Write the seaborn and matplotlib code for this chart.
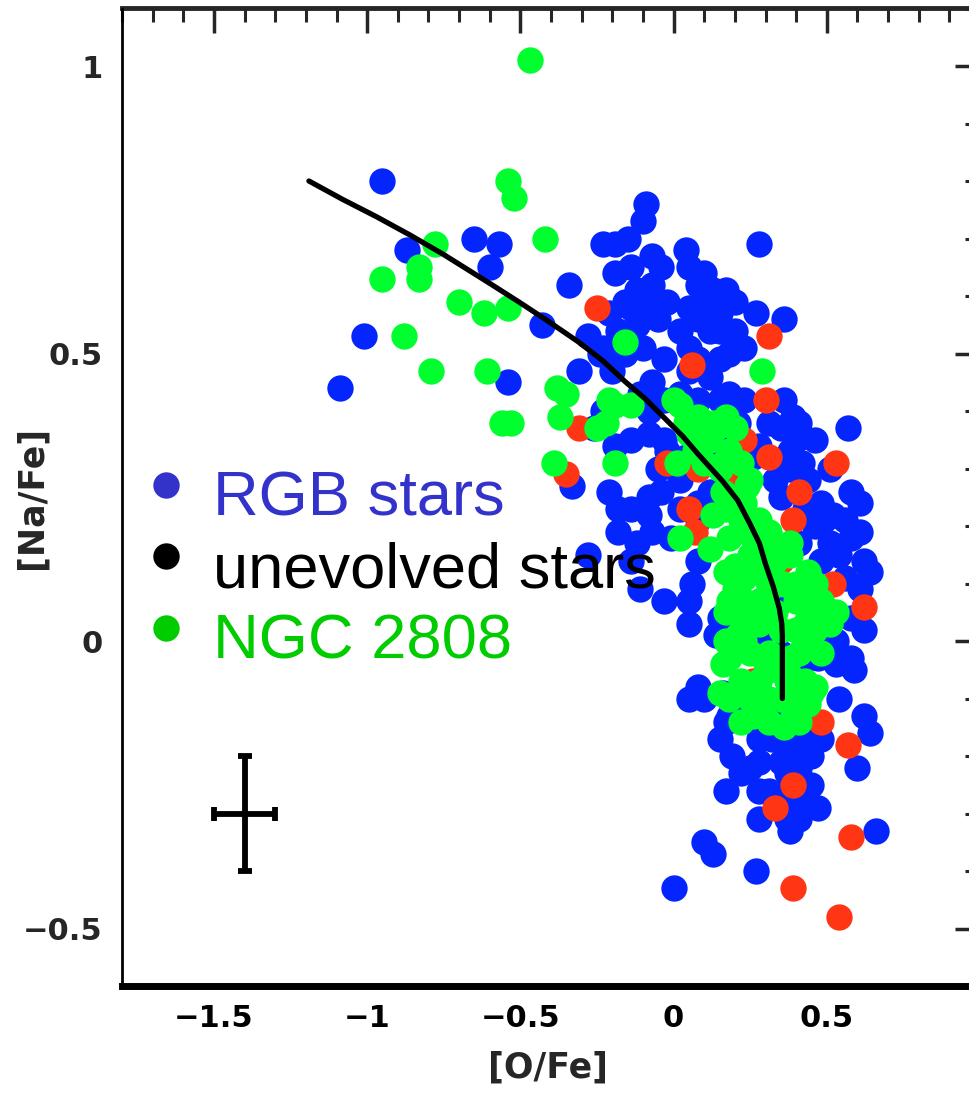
import matplotlib
matplotlib.use("Agg")
import matplotlib.pyplot as plt
from matplotlib.ticker import MultipleLocator
from matplotlib.font_manager import FontProperties
import seaborn as sns

# ---------------- data ----------------
rgb_ofe = [-0.95, -0.87, -0.65, -0.57, -1.01, -1.09, -0.54, -0.43, -0.34, -0.19, -0.09, -0.10,
           0.04, 0.28, -0.60, -0.28, -0.31, -0.33, 0.57, 0.27, 0.36, 0.39, 0.36, 0.42, 0.40,
           0.58, 0.61, 0.52, 0.62, 0.64, 0.60, 0.62, 0.58, 0.62, 0.64, 0.60, 0.66, 0.10, 0.13,
           0.27, 0.00, 0.05, 0.14, 0.08, -0.21, -0.14, -0.08, -0.04, -0.12, -0.11, -0.28, 0.06,
           0.16, 0.18, 0.19, 0.17, 0.19, 0.22, 0.17, 0.38, 0.45, 0.37, 0.45, 0.47, 0.37, 0.32,
           0.43, 0.59, 0.53, 0.47,
           -0.23, -0.15, -0.07, -0.04, -0.12, -0.07, -0.02, 0.08, 0.13, 0.15, 0.08, 0.02, -0.05,
           -0.12, -0.10, -0.03, 0.05, 0.12, 0.05, 0.12, 0.18, -0.07, 0.02, 0.08, -0.18, -0.23,
           -0.20, -0.08, 0.08, 0.18, 0.21, 0.28, 0.23, 0.15, 0.31, 0.38, 0.44, 0.48, 0.49, 0.41,
           0.51, 0.54, 0.46, 0.35, 0.28, 0.35, 0.41, 0.28, 0.41, 0.35, 0.28, 0.31, 0.44, 0.28,
           0.38, -0.08, -0.02, -0.26, -0.23, -0.05, -0.18, -0.07, 0.08, 0.12, 0.02, -0.03, 0.08,
           -0.19, -0.14, 0.05, 0.10, 0.17, 0.20, -0.16, -0.21, -0.14, -0.08, 0.05, 0.12, 0.15,
           0.20, 0.23, -0.24, -0.16, 0.08, 0.15, -0.11, -0.03, 0.05, 0.15, 0.23, -0.14, -0.19,
           -0.03, 0.04, 0.20, 0.26, 0.35, 0.41, 0.38, 0.46, 0.51, 0.33, 0.35, 0.43, 0.46, 0.56,
           0.58, 0.61, 0.48, 0.56, 0.61, 0.58, 0.53, 0.48, 0.44, 0.54, 0.48, 0.41, 0.35, 0.28,
           0.25, 0.28, 0.38, 0.41, 0.22, 0.15, 0.10, 0.05, -0.01, 0.08, 0.02, 0.05, 0.15, -0.14,
           -0.08, -0.18]
rgb_nafe = [0.80, 0.68, 0.70, 0.69, 0.53, 0.44, 0.45, 0.55, 0.62, 0.69, 0.76, 0.73,
            0.68, 0.69, 0.65, 0.53, 0.47, 0.27, 0.37, 0.57, 0.56, 0.39, 0.42, 0.31, 0.35,
            0.26, 0.24, 0.22, 0.14, 0.12, 0.04, 0.02, -0.03, -0.13, -0.16, -0.22, -0.33, -0.35, -0.37,
            -0.40, -0.43, 0.03, 0.01, -0.08, 0.26, 0.23, 0.22, 0.26, 0.17, 0.09, 0.15, 0.10,
            -0.09, -0.13, -0.10, -0.14, -0.20, -0.23, -0.26, -0.19, -0.20, -0.23, -0.25, -0.29, -0.31, -0.17,
            -0.17, -0.05, -0.04, -0.03,
            0.69, 0.70, 0.67, 0.65, 0.61, 0.62, 0.59, 0.62, 0.61, 0.57, 0.56, 0.54, 0.56,
            0.55, 0.51, 0.49, 0.51, 0.54, 0.47, 0.46, 0.50, 0.45, 0.43, 0.42, 0.54, 0.51,
            0.47, 0.36, 0.35, 0.43, 0.38, 0.34, 0.31, 0.33, 0.38, 0.30, 0.28, 0.24, 0.21, 0.17,
            0.17, 0.15, 0.10, 0.07, 0.00, -0.02, -0.05, -0.10, -0.09, -0.14, -0.21, -0.26, -0.28, -0.31,
            -0.33, 0.40, 0.33, 0.37, 0.40, 0.30, 0.19, 0.19, 0.24, 0.26, 0.28, 0.07, 0.14,
            0.64, 0.65, 0.65, 0.64, 0.61, 0.59, 0.59, 0.57, 0.58, 0.58, 0.58, 0.59, 0.54,
            0.54, 0.51, 0.50, 0.50, 0.49, 0.49, 0.43, 0.42, 0.40, 0.42, 0.42, 0.35, 0.34,
            0.35, 0.32, 0.35, 0.32, 0.37, 0.38, 0.33, 0.35, 0.30, 0.28, 0.25, 0.23, 0.20, 0.21,
            0.18, 0.19, 0.14, 0.11, 0.09, 0.04, 0.00, 0.00, -0.03, -0.10, -0.17, -0.22, -0.21, -0.17,
            -0.22, -0.26, -0.28, -0.31, -0.10, -0.17, -0.10, -0.10, 0.18, 0.21, 0.23, 0.07, 0.04, 0.14,
            0.25, 0.23]

red_ofe = [-0.25, 0.31, 0.06, 0.30, -0.31, 0.23, 0.31, 0.53, -0.02, 0.08, -0.35, 0.20, 0.41,
           0.39, 0.05, 0.07, 0.52, 0.62, 0.26, 0.48, 0.57, 0.39, 0.33, 0.58, 0.39, 0.54, 0.35]
red_nafe = [0.58, 0.53, 0.48, 0.42, 0.37, 0.35, 0.32, 0.31, 0.31, 0.30, 0.29, 0.29, 0.26,
            0.21, 0.23, 0.19, 0.10, 0.06, -0.07, -0.14, -0.18, -0.25, -0.29, -0.34, -0.43, -0.48, 0.14]

ngc_ofe = [-0.47, -0.54, -0.52, -0.42, -0.78, -0.95, -0.83, -0.83, -0.70, -0.62, -0.54, -0.88,
           -0.79, -0.61, -0.56, -0.53, -0.16, -0.38, -0.35, -0.37, -0.21, -0.19, -0.14, -0.22,
           -0.25, -0.39, -0.19, 0.02, 0.04, 0.05, 0.17, 0.14, 0.29, 0.01, 0.16, 0.25, 0.24, 0.13,
           0.02, 0.31, 0.38, 0.12, 0.20, 0.20, 0.25, 0.20, 0.16, 0.30, 0.37, 0.40, 0.44, 0.47,
           0.51, 0.21, 0.25, 0.18, 0.43, 0.41, 0.45, 0.39, 0.22, 0.42, 0.28, 0.31, 0.35, 0.31,
           0.25, 0.15, 0.07, 0.16,
           0.22, 0.26, 0.33, 0.40, 0.28, 0.23, 0.31, 0.38, 0.44, 0.48, 0.28, 0.35, 0.17, 0.18,
           0.23, 0.08, 0.12, 0.18, 0.10,
           0.17, 0.23, 0.28, 0.18, 0.25, 0.31, 0.38, 0.17, 0.23, 0.30, 0.36, 0.41, 0.44, 0.49,
           0.53, 0.46, 0.17, 0.22, 0.28, 0.33, 0.40, 0.46, 0.48, 0.25, 0.31, 0.38, 0.43, 0.22,
           0.18, 0.26, 0.31, 0.36, 0.41, 0.44, 0.46, 0.00, 0.07, 0.13, 0.20, 0.15, 0.22]
ngc_nafe = [1.01, 0.80, 0.77, 0.70, 0.69, 0.63, 0.65, 0.63, 0.59, 0.57, 0.58, 0.53,
            0.47, 0.47, 0.38, 0.38, 0.52, 0.44, 0.43, 0.39, 0.42, 0.41, 0.41, 0.38,
            0.37, 0.31, 0.31, 0.41, 0.38, 0.36, 0.39, 0.37, 0.47, 0.31, 0.31, 0.28, 0.27, 0.22,
            0.18, 0.19, 0.17, 0.16, 0.13, 0.09, 0.04, -0.01, -0.04, -0.04, -0.07, 0.10, 0.12, 0.06,
            0.03, 0.01, 0.05, -0.03, 0.03, -0.02, -0.09, -0.13, -0.14, -0.10, 0.14, 0.09, 0.02, -0.10,
            -0.10, -0.09, 0.33, 0.26,
            0.21, 0.18, 0.14, 0.07, 0.07, 0.00, -0.02, -0.03, 0.00, 0.07, -0.07, -0.10, 0.00, 0.07,
            0.11, 0.39, 0.35, 0.33, 0.31,
            0.23, 0.24, 0.21, 0.18, 0.15, 0.17, 0.15, 0.12, 0.07, 0.11, 0.10, 0.08, 0.05, 0.06,
            0.05, 0.10, 0.05, 0.04, 0.03, 0.05, 0.02, 0.02, -0.02, -0.02, -0.05, -0.06, -0.07, -0.07,
            -0.10, -0.13, -0.14, -0.15, -0.14, -0.11, -0.08, 0.42, 0.38, 0.38, 0.37, 0.30, 0.31]

curve_ofe = [-1.19, -1.08, -0.97, -0.86, -0.75, -0.60, -0.50, -0.42, -0.31, -0.23, -0.16,
             -0.09, -0.03, 0.03, 0.08, 0.16, 0.21, 0.25, 0.28, 0.30, 0.325, 0.345, 0.353, 0.355, 0.355]
curve_nafe = [0.800, 0.768, 0.738, 0.706, 0.672, 0.622, 0.588, 0.560, 0.520, 0.487, 0.452,
              0.420, 0.388, 0.356, 0.325, 0.278, 0.244, 0.203, 0.170, 0.134, 0.095, 0.057, 0.030,
              0.010, -0.100]

err_ofe, err_nafe = -1.40, -0.30
err_dofe, err_dnafe = 0.10, 0.10

xtick_vals = [-1.5, -1.0, -0.5, 0.0, 0.5]
xtick_labels = ["\u22121.5", "\u22121", "\u22120.5", "0", "0.5"]
ytick_vals = [-0.5, 0.0, 0.5, 1.0]
ytick_labels = ["\u22120.5", "0", "0.5", "1"]

legend_labels = ["RGB stars", "unevolved stars", "NGC 2808"]
legend_colors = ["#3333cc", "#000000", "#00cc00"]

C_BLUE = "#0525ff"
C_RED = "#ff3514"
C_GREEN = "#00ff2e"

# ---------------- figure ----------------
sns.set_style("white")
W, H = 969, 1096
fig = plt.figure(figsize=(W / 100, H / 100), dpi=100)
ax = fig.add_axes([122 / W, (H - 986) / H, (980 - 122) / W, (986 - 8.5) / H])

ms = 360
sns.scatterplot(x=rgb_ofe, y=rgb_nafe, ax=ax, color=C_BLUE, s=ms, linewidth=0, legend=False, zorder=2)
sns.scatterplot(x=red_ofe, y=red_nafe, ax=ax, color=C_RED, s=ms, linewidth=0, legend=False, zorder=3)
sns.scatterplot(x=ngc_ofe, y=ngc_nafe, ax=ax, color=C_GREEN, s=ms, linewidth=0, legend=False, zorder=4)
sns.lineplot(x=curve_ofe, y=curve_nafe, ax=ax, sort=False, estimator=None, color="black",
             linewidth=3.8, zorder=5)
ax.errorbar(err_ofe, err_nafe, xerr=err_dofe, yerr=err_dnafe, color="black", linewidth=4.2,
            capsize=5, capthick=4.2, zorder=5)

ax.set_xlim(-1.8, 1.0)
ax.set_ylim(-0.6, 1.1)

tickfont = FontProperties(family=["DejaVu Sans"], weight="bold", size=22)
labfont = FontProperties(family=["DejaVu Sans"], weight="bold", size=25)

ax.set_xticks(xtick_vals)
ax.set_xticklabels(xtick_labels, fontproperties=tickfont)
ax.set_yticks(ytick_vals)
ax.set_yticklabels(ytick_labels, fontproperties=tickfont)
ax.xaxis.set_minor_locator(MultipleLocator(0.1))
ax.yaxis.set_minor_locator(MultipleLocator(0.1))
ax.tick_params(axis="x", which="major", direction="in", length=14, width=2.5, pad=13, colors="black")
ax.tick_params(axis="x", which="minor", direction="in", length=7, width=2.2)
ax.tick_params(axis="y", which="major", direction="in", length=5, width=2.5, pad=14)
ax.tick_params(axis="y", which="minor", direction="in", length=4, width=1.6)

ax.spines["top"].set_visible(False)
ax.spines["right"].set_visible(False)
ax.spines["bottom"].set_linewidth(5)
ax.spines["left"].set_linewidth(2)
for s in ax.spines.values():
    s.set_color("black")

top = ax.secondary_xaxis("top")
top.set_xticks(xtick_vals)
top.xaxis.set_minor_locator(MultipleLocator(0.1))
top.tick_params(axis="x", which="major", direction="in", length=18, width=2.5, labeltop=False)
top.tick_params(axis="x", which="minor", direction="in", length=10, width=2.2)
top.spines["top"].set_linewidth(3.5)

right = ax.secondary_yaxis("right")
right.set_yticks(ytick_vals)
right.yaxis.set_minor_locator(MultipleLocator(0.1))
right.tick_params(axis="y", which="major", direction="in", length=18, width=2.5, labelright=False)
right.tick_params(axis="y", which="minor", direction="in", length=11, width=2.2)

ax.set_xlabel("[O/Fe]", fontproperties=labfont)
ax.set_ylabel("[Na/Fe]", fontproperties=labfont)
ax.xaxis.set_label_coords(0.4965, -0.066)
ax.yaxis.set_label_coords(-0.086, 0.5)

# legend-like annotation
leg_y_text = [0.481, 0.408, 0.335]
leg_y_dot = [0.513, 0.440, 0.366]
for lab, col, yt, yd in zip(legend_labels, legend_colors, leg_y_text, leg_y_dot):
    ax.plot([0.051], [yd], marker="o", markersize=19, color=col, markeredgewidth=0,
            transform=ax.transAxes, zorder=10, clip_on=False)
    ax.text(0.106, yt, lab, transform=ax.transAxes, color=col, fontsize=45.5,
            family="Liberation Sans", va="baseline", ha="left", zorder=11)

fig.savefig("out.png", dpi=100)
